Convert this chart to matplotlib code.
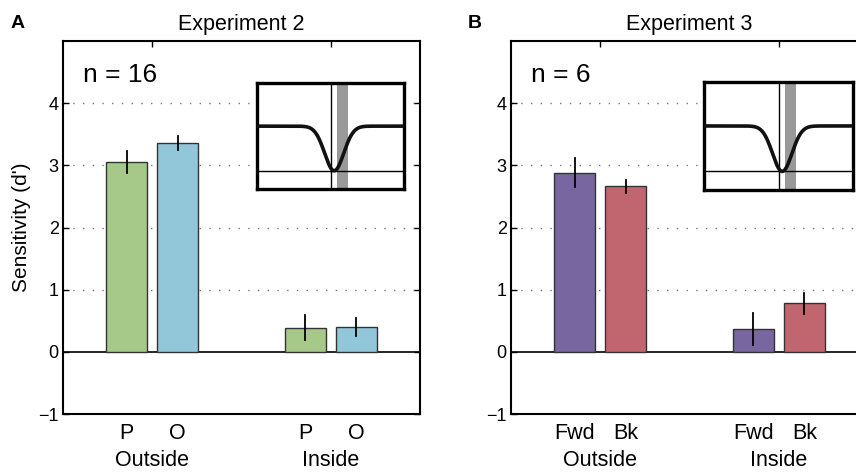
import matplotlib
matplotlib.use("Agg")
import matplotlib.pyplot as plt
import numpy as np

plt.rcParams['font.family'] = ['Liberation Sans', 'DejaVu Sans']

# values
groups = ["Outside", "Inside"]
exp2_labels = ["P", "O"]
exp2_means = [[3.05, 3.36], [0.39, 0.40]]
exp2_err = [[0.18, 0.115], [0.205, 0.15]]
exp3_labels = ["Fwd", "Bk"]
exp3_means = [[2.88, 2.66], [0.37, 0.78]]
exp3_err = [[0.23, 0.11], [0.26, 0.17]]
exp2_colors = ["#a6c98a", "#92c6d9"]
exp3_colors = ["#7866a0", "#c1666f"]

W, H = 856, 473
fig = plt.figure(figsize=(W / 100, H / 100), dpi=100)


def px_axes(x0, y0, x1, y1):
    # pixel box (top-left origin) -> figure axes
    return fig.add_axes([x0 / W, 1 - y1 / H, (x1 - x0) / W, (y1 - y0) / H])


def panel(ax, means, errs, labels, colors, title, ntext, ylabel):
    offs = [-0.143, 0.143]
    width = 0.23
    for g in range(2):
        for k in range(2):
            xc = g + 1 + offs[k]
            ax.bar(xc, means[g][k], width, color=colors[k], edgecolor="#333333",
                   linewidth=1.0, zorder=3)
            ax.plot([xc, xc], [means[g][k] - errs[g][k], means[g][k] + errs[g][k]],
                    color="black", lw=1.3, zorder=4)
            ax.text(xc, -1.31, labels[k], ha="center", va="center", fontsize=15.5,
                    clip_on=False)
        ax.text(g + 1, -1.74, groups[g], ha="center", va="center", fontsize=15.5,
                clip_on=False)
    for yv in [1, 2, 3, 4]:
        ax.axhline(yv, color="#777777", lw=1.0, ls=(0, (1, 6)), zorder=1)
    ax.axhline(0, color="black", lw=1.2, zorder=2)
    ax.set_xlim(0.5, 2.5)
    ax.set_ylim(-1, 5)
    ax.set_yticks([-1, 0, 1, 2, 3, 4])
    ax.set_yticklabels(["\u22121", "0", "1", "2", "3", "4"], fontsize=13)
    ax.set_xticks([1, 2])
    ax.set_xticklabels([])
    ax.tick_params(axis="y", direction="in", length=4, width=1, right=True, pad=3)
    ax.tick_params(axis="x", direction="in", length=4, width=1, top=True, bottom=False)
    for s in ax.spines.values():
        s.set_linewidth(1.5)
    ax.text(0.055, 0.91, ntext, transform=ax.transAxes, fontsize=19, va="center")
    ax.set_title(title, fontsize=15.5, pad=8)
    if ylabel:
        ax.set_ylabel("Sensitivity (d')", fontsize=15, labelpad=5)
    return ax


axA = px_axes(63, 41, 420, 414)
panel(axA, exp2_means, exp2_err, exp2_labels, exp2_colors, "Experiment 2", "n = 16", True)
axB = px_axes(511, 41, 868, 414)
panel(axB, exp3_means, exp3_err, exp3_labels, exp3_colors, "Experiment 3", "n = 6", False)

fig.text(18 / W, 1 - 24 / H, "A", fontsize=14, fontweight="bold", va="center", ha="center")
fig.text(475 / W, 1 - 24 / H, "B", fontsize=14, fontweight="bold", va="center", ha="center")

# schematic insets
xs = np.linspace(0, 1, 300)
curve = 0.593 - 0.421 * np.exp(-(xs - 0.525) ** 2 / (2 * 0.065 ** 2))
for box in [(257, 83, 404, 189), (704, 82, 853, 190)]:
    ins = px_axes(*box)
    ins.set_xlim(0, 1)
    ins.set_ylim(0, 1)
    ins.set_xticks([])
    ins.set_yticks([])
    ins.axvspan(0.543, 0.62, color="#999999", lw=0, zorder=1)
    ins.axvline(0.504, color="black", lw=1.0, zorder=2)
    ins.axhline(0.172, color="black", lw=1.0, zorder=2)
    ins.plot(xs, curve, color="#111111", lw=2.6, zorder=3)
    for s in ins.spines.values():
        s.set_linewidth(2.4)

fig.savefig("out.png", dpi=100)
